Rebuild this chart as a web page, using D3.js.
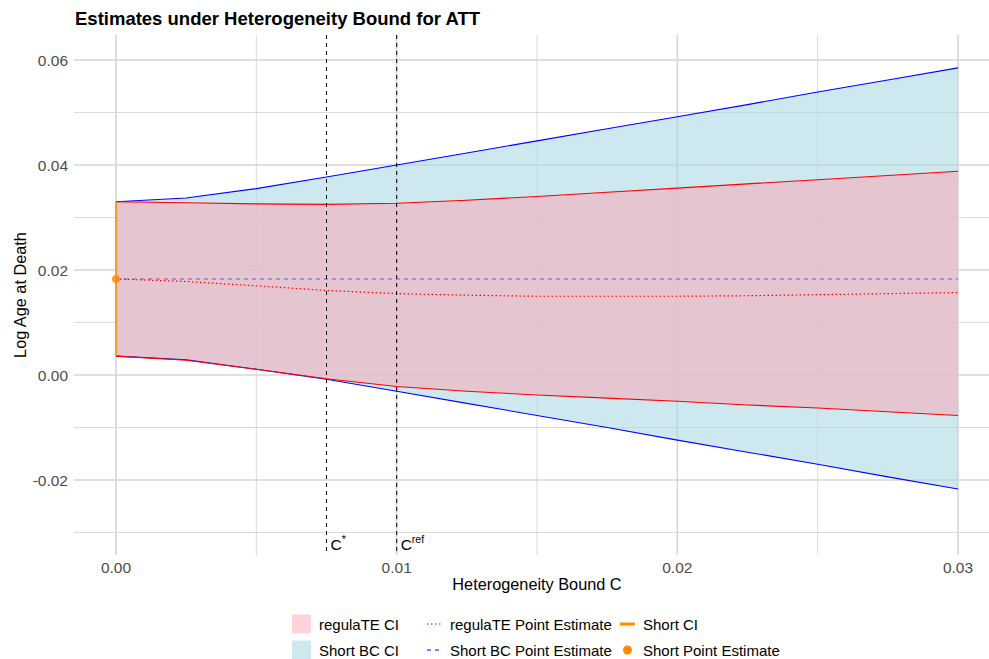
<!DOCTYPE html>
<html>
<head>
<meta charset="utf-8">
<script src="https://cdn.jsdelivr.net/npm/d3@7"></script>
<style>
  body { margin: 0; background: #fff; }
  svg { display: block; font-family: "Liberation Sans", Arial, sans-serif; }
</style>
</head>
<body>
<script>
var width = 989;
var height = 659;

// heterogeneity bound grid
var cGrid = [0, 0.0025, 0.005, 0.0075, 0.01, 0.0125, 0.015, 0.0175, 0.02, 0.0225, 0.025, 0.0275, 0.03];

var shortBCUpper = [0.0330, 0.0337, 0.0355, 0.0377, 0.0400, 0.0423, 0.0446, 0.0469, 0.0492, 0.0515, 0.0539, 0.0562, 0.0585];
var shortBCLower = [0.0036, 0.0029, 0.0011, -0.0008, -0.0031, -0.0054, -0.0077, -0.0100, -0.0124, -0.0147, -0.0170, -0.0194, -0.0217];
var shortBCPoint = [0.0183, 0.0183, 0.0183, 0.0183, 0.0183, 0.0183, 0.0183, 0.0183, 0.0183, 0.0183, 0.0183, 0.0183, 0.0183];

var regUpper = [0.0330, 0.0328, 0.0326, 0.0325, 0.0327, 0.0333, 0.0340, 0.0348, 0.0356, 0.0364, 0.0372, 0.0380, 0.0388];
var regLower = [0.0036, 0.0028, 0.0011, -0.0007, -0.0022, -0.0031, -0.0038, -0.0044, -0.0050, -0.0057, -0.0063, -0.0070, -0.0077];
var regPoint = [0.0183, 0.0178, 0.0170, 0.0161, 0.0155, 0.0152, 0.0150, 0.0150, 0.0150, 0.0151, 0.0153, 0.0155, 0.0157];

var shortCI = [0.0036, 0.0330];
var shortPoint = 0.0183;

var cStar = 0.0075;
var cRef = 0.01;

var xTicks = [0, 0.01, 0.02, 0.03];
var xTickLabels = ["0.00", "0.01", "0.02", "0.03"];
var xMinor = [0.005, 0.015, 0.025];
var yTicks = [-0.02, 0, 0.02, 0.04, 0.06];
var yTickLabels = ["-0.02", "0.00", "0.02", "0.04", "0.06"];
var yMinor = [-0.03, -0.01, 0.01, 0.03, 0.05];

var legendItems = [
  { label: "regulaTE CI", type: "fill", color: "pink", opacity: 0.7 },
  { label: "Short BC CI", type: "fill", color: "lightblue", opacity: 0.6 },
  { label: "regulaTE Point Estimate", type: "line", color: "red", dash: "1.5,2.5" },
  { label: "Short BC Point Estimate", type: "line", color: "blue", dash: "4,4" },
  { label: "Short CI", type: "line", color: "darkorange", width: 3 },
  { label: "Short Point Estimate", type: "point", color: "darkorange" }
];

var panel = { left: 74, right: 1000, top: 35, bottom: 555 };

var x = d3.scaleLinear().domain([0, 0.03]).range([116, 958]);
var y = d3.scaleLinear().domain([0, 0.06]).range([375, 60]);

var svg = d3.select('body').append('svg')
  .attr('width', width)
  .attr('height', height);

// grid
var grid = svg.append('g').attr('class', 'grid');
grid.selectAll('.ymin').data(yMinor).enter().append('line')
  .attr('x1', panel.left).attr('x2', panel.right)
  .attr('y1', d => y(d)).attr('y2', d => y(d))
  .style('stroke', '#d6d6d6').style('stroke-width', 0.9);
grid.selectAll('.xmin').data(xMinor).enter().append('line')
  .attr('y1', panel.top).attr('y2', panel.bottom)
  .attr('x1', d => x(d)).attr('x2', d => x(d))
  .style('stroke', '#d6d6d6').style('stroke-width', 0.9);
grid.selectAll('.ymaj').data(yTicks).enter().append('line')
  .attr('x1', panel.left).attr('x2', panel.right)
  .attr('y1', d => y(d)).attr('y2', d => y(d))
  .style('stroke', '#d6d6d6').style('stroke-width', 1.6);
grid.selectAll('.xmaj').data(xTicks).enter().append('line')
  .attr('y1', panel.top).attr('y2', panel.bottom)
  .attr('x1', d => x(d)).attr('x2', d => x(d))
  .style('stroke', '#d6d6d6').style('stroke-width', 1.6);

var idx = d3.range(cGrid.length);

var area = function(lo, hi) {
  return d3.area()
    .x(i => x(cGrid[i]))
    .y0(i => y(lo[i]))
    .y1(i => y(hi[i]));
};
var line = function(vals) {
  return d3.line()
    .x(i => x(cGrid[i]))
    .y(i => y(vals[i]));
};

var plot = svg.append('g').attr('class', 'plot');

plot.append('path').datum(idx)
  .attr('d', area(shortBCLower, shortBCUpper))
  .style('fill', 'lightblue').style('fill-opacity', 0.6);
plot.append('path').datum(idx)
  .attr('d', area(regLower, regUpper))
  .style('fill', '#eabcc8').style('fill-opacity', 0.8);

[shortBCUpper, shortBCLower].forEach(vals => {
  plot.append('path').datum(idx)
    .attr('d', line(vals))
    .style('fill', 'none').style('stroke', 'blue').style('stroke-width', 1.1);
});
[regUpper, regLower].forEach(vals => {
  plot.append('path').datum(idx)
    .attr('d', line(vals))
    .style('fill', 'none').style('stroke', 'red').style('stroke-width', 1.1);
});

plot.append('path').datum(idx)
  .attr('d', line(shortBCPoint))
  .style('fill', 'none').style('stroke', 'blue').style('stroke-opacity', 0.55)
  .style('stroke-width', 1.1).style('stroke-dasharray', '4,4');
plot.append('path').datum(idx)
  .attr('d', line(regPoint))
  .style('fill', 'none').style('stroke', 'red')
  .style('stroke-width', 1.2).style('stroke-dasharray', '1.5,2.5');

// short CI and point at C = 0
plot.append('line')
  .attr('x1', x(0)).attr('x2', x(0))
  .attr('y1', y(shortCI[0])).attr('y2', y(shortCI[1]))
  .style('stroke', 'darkorange').style('stroke-width', 1.6);
plot.append('circle')
  .attr('cx', x(0)).attr('cy', y(shortPoint)).attr('r', 4)
  .style('fill', 'darkorange').style('fill-opacity', 0.85);

// reference lines
var refs = [
  { c: cStar, sup: "*" },
  { c: cRef, sup: "ref" }
];
refs.forEach(r => {
  plot.append('line')
    .attr('x1', x(r.c)).attr('x2', x(r.c))
    .attr('y1', panel.top).attr('y2', panel.bottom)
    .style('stroke', 'black').style('stroke-width', 1)
    .style('stroke-dasharray', '4,4');
  var t = plot.append('text')
    .attr('x', x(r.c) + 4).attr('y', 550)
    .style('font-size', '15.5px').style('fill', 'black');
  t.append('tspan').text('C');
  t.append('tspan').attr('dy', -7).style('font-size', '10.5px').text(r.sup);
});

// axes labels
var axes = svg.append('g').attr('class', 'axes');
axes.selectAll('.ylab').data(yTicks).enter().append('text')
  .attr('x', 68).attr('y', d => y(d) + 5.5)
  .attr('text-anchor', 'end')
  .style('font-size', '15.5px').style('fill', '#4d4d4d')
  .text((d, i) => yTickLabels[i]);
axes.selectAll('.xlab').data(xTicks).enter().append('text')
  .attr('x', d => x(d)).attr('y', 573)
  .attr('text-anchor', 'middle')
  .style('font-size', '15.5px').style('fill', '#4d4d4d')
  .text((d, i) => xTickLabels[i]);

axes.append('text')
  .attr('x', x(0.015)).attr('y', 590)
  .attr('text-anchor', 'middle')
  .style('font-size', '16.3px').style('fill', 'black')
  .text('Heterogeneity Bound C');
axes.append('text')
  .attr('transform', 'translate(26,' + ((panel.top + panel.bottom) / 2) + ') rotate(-90)')
  .attr('text-anchor', 'middle')
  .style('font-size', '16.3px').style('fill', 'black')
  .text('Log Age at Death');

svg.append('text')
  .attr('x', 75).attr('y', 25)
  .style('font-size', '18.5px').style('font-weight', 'bold')
  .text('Estimates under Heterogeneity Bound for ATT');

// legend: 3 columns x 2 rows
var colX = [292, 425, 618];
var rowY = [624, 650];
var legend = svg.append('g').attr('class', 'legend');
legendItems.forEach((d, i) => {
  var col = Math.floor(i / 2), row = i % 2;
  var g = legend.append('g')
    .attr('transform', 'translate(' + colX[col] + ',' + rowY[row] + ')');
  if (d.type === 'fill') {
    g.append('rect').attr('x', 0).attr('y', -9.5).attr('width', 19).attr('height', 19)
      .style('fill', d.color).style('fill-opacity', d.opacity);
  } else if (d.type === 'line') {
    g.append('line').attr('x1', 2).attr('x2', 17).attr('y1', 0).attr('y2', 0)
      .style('stroke', d.color).style('stroke-width', d.width || 1.2)
      .style('stroke-dasharray', d.dash || null);
  } else {
    g.append('circle').attr('cx', 9.5).attr('cy', 0).attr('r', 4.5)
      .style('fill', d.color);
  }
  g.append('text').attr('x', col === 0 ? 27 : 25).attr('y', 5.5)
    .style('font-size', '15px').style('fill', 'black')
    .text(d.label);
});
</script>
</body>
</html>
